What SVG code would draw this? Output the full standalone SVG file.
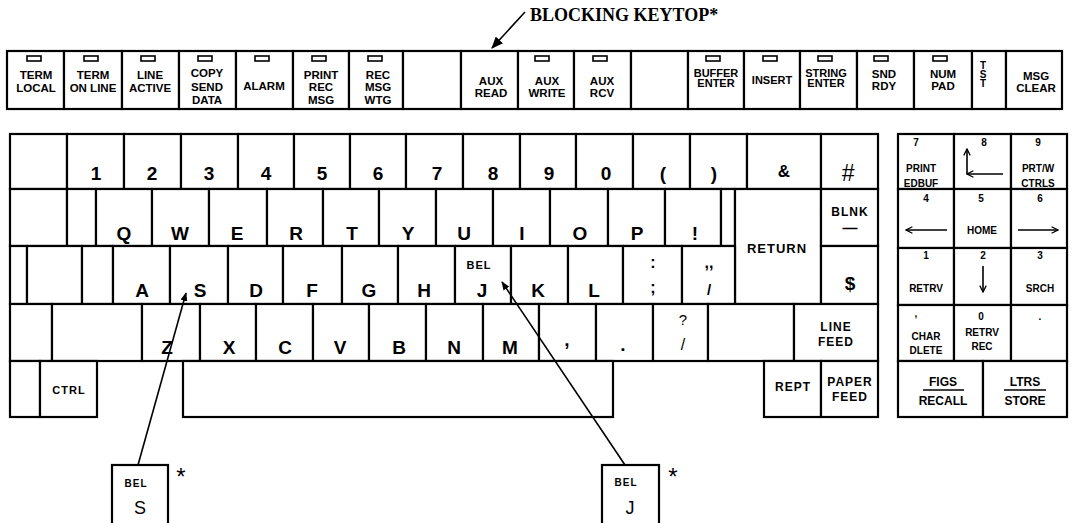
<svg xmlns="http://www.w3.org/2000/svg" width="1074" height="523" viewBox="0 0 1074 523">
<defs>
<style>
.k{fill:#fff;stroke:#000;stroke-width:2.2}
.ind{fill:#fff;stroke:#000;stroke-width:1.6}
text{font-family:"Liberation Sans",Arial,sans-serif;font-weight:bold;text-anchor:middle;fill:#000}
.s{font-size:11.5px}
.m{font-size:12px;letter-spacing:1px}
.b{font-size:19px}
.p{font-size:10px}
.n{font-weight:normal}
.lead{stroke:#000;stroke-width:1.6;fill:none}
.arr{stroke:#000;stroke-width:1.6;fill:none}
.cap{font-family:"Liberation Serif","Times New Roman",serif;font-size:18px;text-anchor:start}
</style>
<marker id="ah" viewBox="0 0 12 10" refX="11" refY="5" markerWidth="12" markerHeight="10" orient="auto" markerUnits="userSpaceOnUse"><path d="M0,0 L12,5 L0,10 z" fill="#000"/></marker>
<marker id="ah2" viewBox="0 0 10 8" refX="9" refY="4" markerWidth="9" markerHeight="7" orient="auto" markerUnits="userSpaceOnUse"><path d="M0,0 L10,4 L0,8 z" fill="#000"/></marker>
<marker id="chev" viewBox="0 0 10 10" refX="9" refY="5" markerWidth="8" markerHeight="8" orient="auto" markerUnits="userSpaceOnUse"><path d="M1,1 L9,5 L1,9" fill="none" stroke="#000" stroke-width="1.6"/></marker>
</defs>
<rect width="1074" height="523" fill="#fff"/>

<!-- top function row -->
<g id="key-term-local"><rect class="k" x="7" y="51" width="57" height="58"/><rect class="ind" x="27" y="56" width="14" height="5"/><text class="s" x="36" y="79">TERM</text><text class="s" x="36" y="92">LOCAL</text></g>
<g id="key-term-online"><rect class="k" x="64" y="51" width="58" height="58"/><rect class="ind" x="84" y="56" width="14" height="5"/><text class="s" x="93" y="79">TERM</text><text class="s" x="93" y="92">ON LINE</text></g>
<g id="key-line-active"><rect class="k" x="122" y="51" width="57" height="58"/><rect class="ind" x="141" y="56" width="14" height="5"/><text class="s" x="150" y="79">LINE</text><text class="s" x="150" y="92">ACTIVE</text></g>
<g id="key-copy-send-data"><rect class="k" x="179" y="51" width="57" height="58"/><rect class="ind" x="198" y="56" width="14" height="5"/><text class="s" x="207" y="77">COPY</text><text class="s" x="207" y="91">SEND</text><text class="s" x="207" y="104">DATA</text></g>
<g id="key-alarm"><rect class="k" x="236" y="51" width="57" height="58"/><rect class="ind" x="255" y="56" width="14" height="5"/><text class="s" x="264" y="90">ALARM</text></g>
<g id="key-print-rec-msg"><rect class="k" x="293" y="51" width="56" height="58"/><rect class="ind" x="312" y="56" width="14" height="5"/><text class="s" x="321" y="79">PRINT</text><text class="s" x="321" y="91">REC</text><text class="s" x="321" y="104">MSG</text></g>
<g id="key-rec-msg-wtg"><rect class="k" x="349" y="51" width="54" height="58"/><rect class="ind" x="368" y="56" width="14" height="5"/><text class="s" x="378" y="79">REC</text><text class="s" x="378" y="91">MSG</text><text class="s" x="378" y="104">WTG</text></g>
<g id="key-top-blank-1"><rect class="k" x="403" y="51" width="58" height="58"/></g>
<g id="key-aux-read"><rect class="k" x="461" y="51" width="57" height="58"/><text class="s" x="491" y="85">AUX</text><text class="s" x="491" y="97">READ</text></g>
<g id="key-aux-write"><rect class="k" x="518" y="51" width="56" height="58"/><rect class="ind" x="535" y="56" width="14" height="5"/><text class="s" x="547" y="85">AUX</text><text class="s" x="547" y="97">WRITE</text></g>
<g id="key-aux-rcv"><rect class="k" x="574" y="51" width="57" height="58"/><rect class="ind" x="593" y="56" width="14" height="5"/><text class="s" x="602" y="85">AUX</text><text class="s" x="602" y="97">RCV</text></g>
<g id="key-top-blank-2"><rect class="k" x="631" y="51" width="57" height="58"/></g>
<g id="key-buffer-enter"><rect class="k" x="688" y="51" width="56" height="58"/><rect class="ind" x="706" y="56" width="14" height="5"/><text class="s" x="716" y="77" style="font-size:11px">BUFFER</text><text class="s" x="716" y="87" style="font-size:11px">ENTER</text></g>
<g id="key-insert"><rect class="k" x="744" y="51" width="56" height="58"/><rect class="ind" x="763" y="56" width="14" height="5"/><text class="s" x="772" y="84" style="font-size:11px">INSERT</text></g>
<g id="key-string-enter"><rect class="k" x="800" y="51" width="57" height="58"/><rect class="ind" x="818" y="56" width="14" height="5"/><text class="s" x="826" y="77" style="font-size:11px">STRING</text><text class="s" x="826" y="87" style="font-size:11px">ENTER</text></g>
<g id="key-snd-rdy"><rect class="k" x="857" y="51" width="57" height="58"/><rect class="ind" x="874" y="56" width="14" height="5"/><text class="s" x="884" y="78">SND</text><text class="s" x="884" y="90">RDY</text></g>
<g id="key-num-pad"><rect class="k" x="914" y="51" width="58" height="58"/><rect class="ind" x="933" y="56" width="14" height="5"/><text class="s" x="943" y="78">NUM</text><text class="s" x="943" y="90">PAD</text></g>
<g id="key-tst"><rect class="k" x="972" y="51" width="34" height="58"/><text class="p" x="983" y="69">T</text><text class="p" x="983" y="78">S</text><text class="p" x="983" y="87">T</text></g>
<g id="key-msg-clear"><rect class="k" x="1006" y="51" width="56" height="58"/><text class="s" x="1036" y="80">MSG</text><text class="s" x="1036" y="92">CLEAR</text></g>

<!-- main keyboard row 1 -->
<g id="key-r1-blank"><rect class="k" x="10" y="134" width="57" height="55"/></g>
<g id="key-1"><rect class="k" x="67" y="134" width="57" height="55"/><text class="b" x="96" y="180">1</text></g>
<g id="key-2"><rect class="k" x="124" y="134" width="57" height="55"/><text class="b" x="152" y="180">2</text></g>
<g id="key-3"><rect class="k" x="181" y="134" width="57" height="55"/><text class="b" x="209" y="180">3</text></g>
<g id="key-4"><rect class="k" x="238" y="134" width="56" height="55"/><text class="b" x="266" y="180">4</text></g>
<g id="key-5"><rect class="k" x="294" y="134" width="56" height="55"/><text class="b" x="322" y="180">5</text></g>
<g id="key-6"><rect class="k" x="350" y="134" width="56" height="55"/><text class="b" x="378" y="180">6</text></g>
<g id="key-7"><rect class="k" x="406" y="134" width="57" height="55"/><text class="b" x="437" y="180">7</text></g>
<g id="key-8"><rect class="k" x="463" y="134" width="57" height="55"/><text class="b" x="493" y="180">8</text></g>
<g id="key-9"><rect class="k" x="520" y="134" width="56" height="55"/><text class="b" x="549" y="180">9</text></g>
<g id="key-0"><rect class="k" x="576" y="134" width="57" height="55"/><text class="b" x="606" y="180">0</text></g>
<g id="key-lparen"><rect class="k" x="633" y="134" width="57" height="55"/><text class="b" x="663" y="180">(</text></g>
<g id="key-rparen"><rect class="k" x="690" y="134" width="57" height="55"/><text class="b" x="714" y="180">)</text></g>
<g id="key-amp"><rect class="k" x="747" y="134" width="74" height="55"/><text class="b" x="784" y="177" style="font-size:17px">&amp;</text></g>
<g id="key-hash"><rect class="k" x="821" y="134" width="57" height="55"/><text class="b" x="848" y="181" style="font-style:italic;font-weight:normal;font-size:23px">#</text></g>

<!-- row 2 -->
<g id="key-r2-blank-1"><rect class="k" x="10" y="189" width="57" height="57"/></g>
<g id="key-r2-blank-2"><rect class="k" x="67" y="189" width="29" height="57"/></g>
<g id="key-q"><rect class="k" x="96" y="189" width="56" height="57"/><text class="b" x="124" y="240">Q</text></g>
<g id="key-w"><rect class="k" x="152" y="189" width="57" height="57"/><text class="b" x="180" y="240">W</text></g>
<g id="key-e"><rect class="k" x="209" y="189" width="58" height="57"/><text class="b" x="237" y="240">E</text></g>
<g id="key-r"><rect class="k" x="267" y="189" width="56" height="57"/><text class="b" x="296" y="240">R</text></g>
<g id="key-t"><rect class="k" x="323" y="189" width="56" height="57"/><text class="b" x="352" y="240">T</text></g>
<g id="key-y"><rect class="k" x="379" y="189" width="57" height="57"/><text class="b" x="408" y="240">Y</text></g>
<g id="key-u"><rect class="k" x="436" y="189" width="57" height="57"/><text class="b" x="464" y="240">U</text></g>
<g id="key-i"><rect class="k" x="493" y="189" width="57" height="57"/><text class="b" x="522" y="240">I</text></g>
<g id="key-o"><rect class="k" x="550" y="189" width="58" height="57"/><text class="b" x="580" y="240">O</text></g>
<g id="key-p"><rect class="k" x="608" y="189" width="57" height="57"/><text class="b" x="637" y="240">P</text></g>
<g id="key-excl"><rect class="k" x="665" y="189" width="56" height="57"/><text class="b" x="695" y="240">!</text></g>
<g id="key-r2-narrow"><rect class="k" x="721" y="189" width="14" height="57"/></g>
<g id="key-return"><rect class="k" x="735" y="189" width="86" height="115"/><text class="m" x="777" y="253" style="font-size:13px">RETURN</text></g>
<g id="key-blnk"><rect class="k" x="821" y="189" width="57" height="57"/><text class="m" x="850" y="216">BLNK</text><text class="b" x="850" y="233" style="font-size:15px">—</text></g>

<!-- row 3 -->
<g id="key-r3-blank-1"><rect class="k" x="10" y="246" width="17" height="58"/></g>
<g id="key-r3-blank-2"><rect class="k" x="27" y="246" width="55" height="58"/></g>
<g id="key-r3-blank-3"><rect class="k" x="82" y="246" width="31" height="58"/></g>
<g id="key-a"><rect class="k" x="113" y="246" width="57" height="58"/><text class="b" x="142" y="297">A</text></g>
<g id="key-s"><rect class="k" x="170" y="246" width="58" height="58"/><text class="b" x="200" y="297">S</text></g>
<g id="key-d"><rect class="k" x="228" y="246" width="55" height="58"/><text class="b" x="256" y="297">D</text></g>
<g id="key-f"><rect class="k" x="283" y="246" width="59" height="58"/><text class="b" x="312" y="297">F</text></g>
<g id="key-g"><rect class="k" x="342" y="246" width="56" height="58"/><text class="b" x="369" y="297">G</text></g>
<g id="key-h"><rect class="k" x="398" y="246" width="57" height="58"/><text class="b" x="424" y="297">H</text></g>
<g id="key-j"><rect class="k" x="455" y="246" width="56" height="58"/><text class="m" x="479" y="269" style="font-size:11px">BEL</text><text class="b" x="482" y="297">J</text></g>
<g id="key-k"><rect class="k" x="511" y="246" width="57" height="58"/><text class="b" x="538" y="297">K</text></g>
<g id="key-l"><rect class="k" x="568" y="246" width="55" height="58"/><text class="b" x="594" y="297">L</text></g>
<g id="key-colon"><rect class="k" x="623" y="246" width="59" height="58"/><text class="b" x="653" y="268" style="font-size:16px">:</text><text class="b" x="653" y="293" style="font-size:16px">;</text></g>
<g id="key-quote"><rect class="k" x="682" y="246" width="53" height="58"/><text class="b" x="709" y="268" style="font-size:16px">,,</text><text class="b" x="709" y="295" style="font-size:15px">/</text></g>
<g id="key-dollar"><rect class="k" x="821" y="246" width="57" height="58"/><text class="b" x="850" y="290">$</text></g>

<!-- row 4 -->
<g id="key-r4-blank-1"><rect class="k" x="10" y="304" width="42" height="57"/></g>
<g id="key-r4-blank-2"><rect class="k" x="52" y="304" width="90" height="57"/></g>
<g id="key-z"><rect class="k" x="142" y="304" width="58" height="57"/><text class="b" x="167" y="354">Z</text></g>
<g id="key-x"><rect class="k" x="200" y="304" width="56" height="57"/><text class="b" x="229" y="354">X</text></g>
<g id="key-c"><rect class="k" x="256" y="304" width="57" height="57"/><text class="b" x="285" y="354">C</text></g>
<g id="key-v"><rect class="k" x="313" y="304" width="56" height="57"/><text class="b" x="340" y="354">V</text></g>
<g id="key-b"><rect class="k" x="369" y="304" width="57" height="57"/><text class="b" x="399" y="354">B</text></g>
<g id="key-n"><rect class="k" x="426" y="304" width="57" height="57"/><text class="b" x="454" y="354">N</text></g>
<g id="key-m"><rect class="k" x="483" y="304" width="56" height="57"/><text class="b" x="510" y="354">M</text></g>
<g id="key-comma"><rect class="k" x="539" y="304" width="57" height="57"/><text class="b" x="567" y="346">,</text></g>
<g id="key-period"><rect class="k" x="596" y="304" width="57" height="57"/><text class="b" x="623" y="351">.</text></g>
<g id="key-question"><rect class="k" x="653" y="304" width="55" height="57"/><text class="n" x="683" y="325" style="font-size:15px">?</text><text class="n" x="683" y="350" style="font-size:16px">/</text></g>
<g id="key-r4-blank-3"><rect class="k" x="708" y="304" width="86" height="57"/></g>
<g id="key-line-feed"><rect class="k" x="794" y="304" width="84" height="57"/><text class="m" x="836" y="331">LINE</text><text class="m" x="836" y="346">FEED</text></g>

<!-- row 5 -->
<g id="key-r5-blank"><rect class="k" x="10" y="361" width="30" height="56"/></g>
<g id="key-ctrl"><rect class="k" x="40" y="361" width="57" height="56"/><text class="m" x="69" y="394" style="font-size:11px">CTRL</text></g>
<g id="key-space"><rect class="k" x="183" y="361" width="430" height="56"/></g>
<g id="key-rept"><rect class="k" x="764" y="361" width="57" height="56"/><text class="m" x="793" y="391">REPT</text></g>
<g id="key-paper-feed"><rect class="k" x="821" y="361" width="57" height="56"/><text class="m" x="850" y="386">PAPER</text><text class="m" x="850" y="401">FEED</text></g>

<!-- keypad -->
<g id="kp-7"><rect class="k" x="898" y="134" width="56" height="55"/><text class="p" x="916" y="146">7</text><text class="p" x="921" y="172">PRINT</text><text class="p" x="921" y="187">EDBUF</text></g>
<g id="kp-8"><rect class="k" x="954" y="134" width="57" height="55"/><text class="p" x="984" y="146">8</text><line class="arr" x1="967" y1="174" x2="967" y2="149" marker-end="url(#chev)"/><line class="arr" x1="1003" y1="174" x2="967" y2="174" marker-end="url(#chev)"/></g>
<g id="kp-9"><rect class="k" x="1011" y="134" width="56" height="55"/><text class="p" x="1038" y="146">9</text><text class="p" x="1038" y="172">PRT/W</text><text class="p" x="1038" y="187">CTRLS</text></g>
<g id="kp-4"><rect class="k" x="898" y="189" width="56" height="59"/><text class="p" x="926" y="202">4</text><line class="arr" x1="947" y1="230" x2="906" y2="230" marker-end="url(#chev)"/></g>
<g id="kp-5"><rect class="k" x="954" y="189" width="57" height="59"/><text class="p" x="981" y="202">5</text><text class="p" x="982" y="234">HOME</text></g>
<g id="kp-6"><rect class="k" x="1011" y="189" width="56" height="59"/><text class="p" x="1040" y="202">6</text><line class="arr" x1="1018" y1="230" x2="1058" y2="230" marker-end="url(#chev)"/></g>
<g id="kp-1"><rect class="k" x="898" y="248" width="56" height="57"/><text class="p" x="926" y="259">1</text><text class="p" x="926" y="292">RETRV</text></g>
<g id="kp-2"><rect class="k" x="954" y="248" width="57" height="57"/><text class="p" x="983" y="259">2</text><line class="arr" x1="983" y1="266" x2="983" y2="292" marker-end="url(#chev)"/></g>
<g id="kp-3"><rect class="k" x="1011" y="248" width="56" height="57"/><text class="p" x="1040" y="259">3</text><text class="p" x="1040" y="292">SRCH</text></g>
<g id="kp-comma"><rect class="k" x="898" y="305" width="56" height="56"/><text class="p" x="916" y="317">,</text><text class="p" x="926" y="340">CHAR</text><text class="p" x="926" y="354">DLETE</text></g>
<g id="kp-0"><rect class="k" x="954" y="305" width="57" height="56"/><text class="p" x="981" y="320">0</text><text class="p" x="982" y="336">RETRV</text><text class="p" x="982" y="350">REC</text></g>
<g id="kp-period"><rect class="k" x="1011" y="305" width="56" height="56"/><text class="p" x="1040" y="320">.</text></g>
<g id="kp-figs-recall"><rect class="k" x="898" y="361" width="85" height="56"/><text class="s" x="943" y="386" style="font-size:12px">FIGS</text><line x1="923" y1="390" x2="964" y2="390" stroke="#000" stroke-width="1.5"/><text class="s" x="943" y="405" style="font-size:12px">RECALL</text></g>
<g id="kp-ltrs-store"><rect class="k" x="983" y="361" width="84" height="56"/><text class="s" x="1025" y="386" style="font-size:12px">LTRS</text><line x1="1004" y1="390" x2="1046" y2="390" stroke="#000" stroke-width="1.5"/><text class="s" x="1025" y="405" style="font-size:12px">STORE</text></g>

<!-- callouts -->
<g id="callout-bel-s"><rect class="k" x="112" y="465" width="56" height="70"/><text class="m" x="136" y="487" style="font-size:10px">BEL</text><text class="n" x="140" y="514" style="font-size:18px">S</text><text class="n" x="181" y="485" style="font-size:24px">*</text></g>
<g id="callout-bel-j"><rect class="k" x="602" y="465" width="57" height="70"/><text class="m" x="626" y="486" style="font-size:10px">BEL</text><text class="n" x="630" y="514" style="font-size:18px">J</text><text class="n" x="673" y="485" style="font-size:24px">*</text></g>
<g id="label-blocking"><text class="cap" x="530" y="21">BLOCKING KEYTOP*</text></g>

<!-- connectors -->
<g id="connectors">
<line class="lead" x1="525" y1="12" x2="492" y2="48" marker-end="url(#ah)"/>
<line class="lead" x1="138" y1="465" x2="186" y2="293" marker-end="url(#ah2)"/>
<line class="lead" x1="625" y1="465" x2="502" y2="282" marker-end="url(#ah2)"/>
</g>
</svg>
